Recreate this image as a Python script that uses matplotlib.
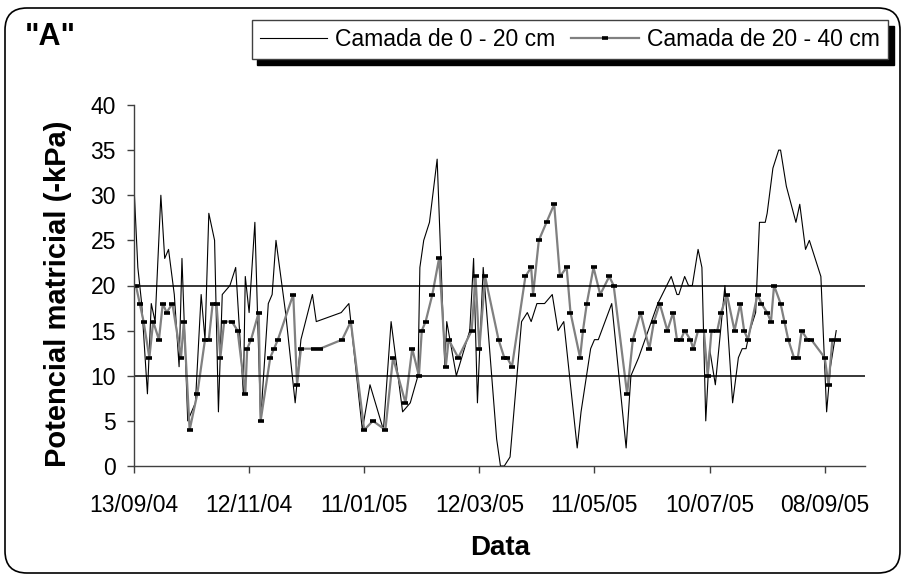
import datetime as dt
import matplotlib
matplotlib.use("Agg")
import matplotlib.pyplot as plt
import matplotlib.dates as mdates
from matplotlib.patches import FancyBboxPatch
from matplotlib.transforms import IdentityTransform

plt.rcParams['font.family'] = ['Liberation Sans', 'DejaVu Sans']

start = dt.datetime(2004, 9, 13)

# camada 0 - 20 cm (dias desde 13/09/04, -kPa)
dias_0_20 = [0, 2, 4, 7, 9, 11, 14, 16, 18, 21, 23.5, 25, 28, 32, 35, 37, 39, 42, 44, 46,
             50, 53, 57, 58, 60, 63, 66, 70, 72, 74, 79, 84, 87, 93, 95, 108, 112, 119, 123, 130,
             134, 140, 144, 148, 149, 151, 154, 158, 162, 163, 168, 175, 177, 179, 182, 189, 191, 193, 196, 202,
             205, 207, 210, 214, 218, 221, 224, 231, 233, 238, 240, 242, 249, 256.5, 259, 263, 273, 280, 283, 284,
             287, 289, 291, 294, 296, 298, 300, 303, 308, 312, 315, 317, 319, 321, 324, 326, 329, 330, 333, 336,
             337, 340, 345, 347, 350, 352, 358, 361, 363, 366]
pot_0_20 = [31, 22, 18, 8, 18, 16, 30, 23, 24, 19, 11, 23, 5, 7, 19, 14, 28, 25, 6, 19,
            20, 22, 8, 21, 17, 27, 5, 18, 19, 25, 17, 7, 14, 19, 16, 17, 18, 4, 9, 4,
            16, 6, 7, 10, 22, 25, 27, 34, 11, 16, 10, 15, 23, 7, 22, 3, 0, 0, 1, 16,
            17, 16, 18, 18, 19, 15, 16, 2, 6, 13, 14, 14, 18, 2, 10, 12, 18, 21, 19, 19,
            21, 20, 20, 24, 22, 5, 13, 9, 20, 7, 12, 13, 13, 15, 17, 27, 27, 28, 33, 35,
            35, 31, 27, 29, 24, 25, 21, 6, 11, 15]

# camada 20 - 40 cm
dias_20_40 = [1, 3, 5, 8, 10, 13, 15, 17, 20, 24.5, 26, 29, 33, 37, 39, 41, 43, 45, 47, 51,
              54, 58, 59, 61, 65, 66, 71, 73, 75, 83, 85, 87, 94, 97, 108.5, 113, 120, 124.5, 131, 135,
              141.5, 145, 148.5, 150, 152, 155.5, 159, 162.5, 164, 169, 176, 178, 180, 183, 190, 193, 194.5, 197, 204, 207,
              208, 211, 215, 219, 222, 225.5, 227.5, 232.5, 234, 236, 239.5, 243, 247.7, 250, 257, 260, 264, 268.6, 271, 274,
              278, 281, 283, 285, 287, 290, 291.5, 294, 297, 299, 301, 304, 306, 309, 313, 316, 318, 320, 325, 327,
              330, 332, 333.6, 337, 339, 341, 344, 346, 348, 351, 353, 360, 362, 364, 367]
pot_20_40 = [20, 18, 16, 12, 16, 14, 18, 17, 18, 12, 16, 4, 8, 14, 14, 18, 18, 12, 16, 16,
             15, 8, 13, 14, 17, 5, 12, 13, 14, 19, 9, 13, 13, 13, 14, 16, 4, 5, 4, 12,
             7, 13, 10, 15, 16, 19, 23, 11, 14, 12, 15, 21, 13, 21, 14, 12, 12, 11, 21, 22,
             19, 25, 27, 29, 21, 22, 17, 12, 15, 18, 22, 19, 21, 20, 8, 14, 17, 13, 16, 18,
             15, 17, 14, 14, 15, 14, 13, 15, 15, 10, 15, 15, 17, 19, 15, 18, 15, 14, 19, 18,
             17, 16, 20, 18, 16, 14, 12, 12, 15, 14, 14, 12, 9, 14, 14]

limites = [10, 20]
ticks_dias = [0, 60, 120, 180, 240, 300, 360]

x1 = [start + dt.timedelta(days=d) for d in dias_0_20]
x2 = [start + dt.timedelta(days=d) for d in dias_20_40]

fig = plt.figure(figsize=(9.06, 5.78), dpi=100)
ax = fig.add_axes([134 / 906, 112 / 578, 731 / 906, 361 / 578])

ax.plot(x1, pot_0_20, color='black', lw=0.8, label='Camada de 0 - 20 cm')
ax.plot(x2, pot_20_40, color='#808080', lw=1.6, marker='_', ms=5, mew=2.6,
        mec='black', label='Camada de 20 - 40 cm')
for v in limites:
    ax.axhline(v, color='black', lw=1.1)

ax.set_ylim(0, 40)
ax.set_yticks(range(0, 41, 5))
ax.set_xlim(start, start + dt.timedelta(days=381))
ax.set_xticks([start + dt.timedelta(days=d) for d in ticks_dias])
ax.xaxis.set_major_formatter(mdates.DateFormatter('%d/%m/%y'))

for s in ['top', 'right']:
    ax.spines[s].set_visible(False)
for s in ['left', 'bottom']:
    ax.spines[s].set_color('#404040')
    ax.spines[s].set_linewidth(1.0)
ax.tick_params(axis='y', direction='out', length=5, width=1, color='#404040',
               labelsize=16.5, pad=8)
ax.tick_params(axis='x', direction='out', length=5, width=1, color='#404040',
               labelsize=16.5, pad=15)

fig.text(58 / 906, 1 - 294 / 578, 'Potencial matricial (-kPa)', rotation=90,
         ha='center', va='center', fontsize=21, fontweight='bold')
fig.text(500 / 906, 1 - 548 / 578, 'Data', ha='center', va='center',
         fontsize=20, fontweight='bold')
fig.text(50 / 906, 1 - 37 / 578, '"A"', ha='center', va='center',
         fontsize=22, fontweight='bold')

leg = ax.legend(loc='upper right', bbox_to_anchor=(888 / 906, 1 - 20 / 578),
                bbox_transform=fig.transFigure, ncol=2, fontsize=16.5,
                handlelength=2.95, handletextpad=0.35, columnspacing=0.7,
                borderpad=0.35, borderaxespad=0, fancybox=False,
                shadow={'ox': 4, 'oy': -4, 'color': 'black', 'alpha': 1})
leg.get_frame().set_edgecolor('#404040')
leg.get_frame().set_linewidth(1.0)
leg.get_frame().set_alpha(1)

frame = FancyBboxPatch((5, 5), 895, 565, boxstyle='round,pad=0,rounding_size=22',
                       transform=IdentityTransform(), facecolor='none',
                       edgecolor='black', lw=1.2)
fig.patches.append(frame)

fig.savefig('out.png', dpi=100)
